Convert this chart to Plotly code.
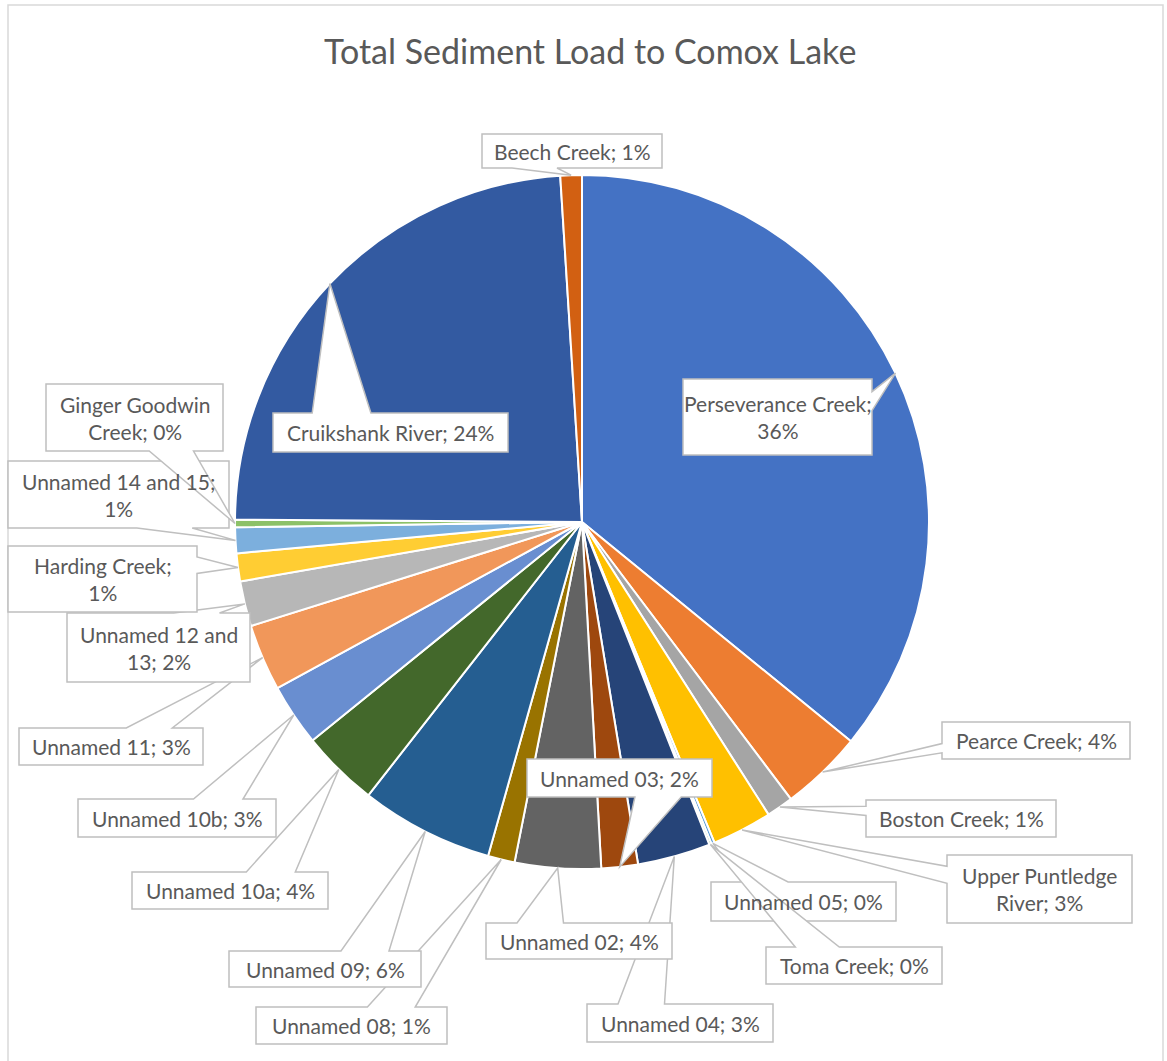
import plotly.graph_objects as go
import math

# ---- data -------------------------------------------------------------
sources = [
    "Perseverance Creek", "Pearce Creek", "Boston Creek", "Upper Puntledge River",
    "Unnamed 05", "Toma Creek", "Unnamed 04", "Unnamed 03", "Unnamed 02",
    "Unnamed 08", "Unnamed 09", "Unnamed 10a", "Unnamed 10b", "Unnamed 11",
    "Unnamed 12 and 13", "Harding Creek", "Unnamed 14 and 15",
    "Ginger Goodwin Creek", "Cruikshank River", "Beech Creek",
]
# share of total sediment load (%)
load_share = [
    35.9, 3.83, 1.25, 2.8,
    0.15, 0.1, 3.4, 1.7, 4.0,
    1.25, 6.2, 3.6, 2.9, 3.1,
    2.1, 1.3, 1.2,
    0.35, 23.9, 1.0,
]
slice_colors = [
    "#4472C4", "#ED7D31", "#A5A5A5", "#FFC000",
    "#5B9BD5", "#70AD47", "#264478", "#9E480E", "#636363",
    "#997300", "#255E91", "#43682B", "#698ED0", "#F1975A",
    "#B7B7B7", "#FFCD33", "#7CAFDD",
    "#8CC168", "#335AA1", "#D26012",
]

# ---- page geometry (pixels) -------------------------------------------
W, H = 1167, 1061
CX, CY, R = 582, 522, 347

# callout boxes: left, top, right, bottom, words on first line (None = one line)
callout_boxes = {
    "Perseverance Creek": (683, 379, 872, 455, 2),
    "Pearce Creek": (942, 722, 1130, 759, None),
    "Boston Creek": (866, 800, 1056, 837, None),
    "Upper Puntledge River": (947, 855, 1132, 923, 2),
    "Unnamed 05": (711, 882, 896, 921, None),
    "Toma Creek": (766, 947, 942, 984, None),
    "Unnamed 04": (587, 1004, 773, 1042, None),
    "Unnamed 03": (527, 759, 712, 797, None),
    "Unnamed 02": (486, 923, 672, 959, None),
    "Unnamed 08": (256, 1007, 447, 1044, None),
    "Unnamed 09": (229, 951, 421, 987, None),
    "Unnamed 10a": (132, 872, 328, 909, None),
    "Unnamed 10b": (78, 799, 276, 837, None),
    "Unnamed 11": (19, 728, 203, 765, None),
    "Unnamed 12 and 13": (67, 613, 250, 682, 3),
    "Harding Creek": (8, 546, 197, 612, 2),
    "Unnamed 14 and 15": (8, 461, 229, 528, 4),
    "Ginger Goodwin Creek": (46, 384, 223, 451, 2),
    "Cruikshank River": (273, 413, 508, 452, None),
    "Beech Creek": (482, 134, 662, 168, None),
}

TEXT_COLOR = "#595959"
FONT = "Lato"


def callout_path(l, t, r, b, tx, ty):
    """Rectangle with a wedge pointing at (tx, ty), like a rectangular callout."""
    w, h = r - l, b - t
    hc, vc = (l + r) / 2, (t + b) / 2
    dx, dy = tx - hc, ty - vc
    dz = abs(dy) - abs(dx * h / w)
    x1 = l + w * (7 if dx > 0 else 2) / 12
    x2 = l + w * (10 if dx > 0 else 5) / 12
    y1 = t + h * (7 if dy > 0 else 2) / 12
    y2 = t + h * (10 if dy > 0 else 5) / 12
    pts = [(l, t)]
    if dz > 0 and dy < 0:
        pts += [(x1, t), (tx, ty), (x2, t)]
    pts.append((r, t))
    if dz <= 0 and dx > 0:
        pts += [(r, y1), (tx, ty), (r, y2)]
    pts.append((r, b))
    if dz > 0 and dy >= 0:
        pts += [(x2, b), (tx, ty), (x1, b)]
    pts.append((l, b))
    if dz <= 0 and dx <= 0:
        pts += [(l, y2), (tx, ty), (l, y1)]
    return "M " + " L ".join(f"{x:.1f},{y:.1f}" for x, y in pts) + " Z"


fig = go.Figure()

fig.add_trace(go.Pie(
    labels=sources,
    values=load_share,
    sort=False,
    direction="clockwise",
    rotation=0,
    textinfo="none",
    hoverinfo="label+percent",
    marker=dict(colors=slice_colors, line=dict(color="white", width=2)),
    domain=dict(x=[(CX - R) / W, (CX + R) / W],
                y=[1 - (CY + R) / H, 1 - (CY - R) / H]),
    showlegend=False,
))

# invisible pixel-space axes for the callouts
fig.add_trace(go.Scatter(x=[0, W], y=[0, H], mode="markers",
                         marker=dict(opacity=0), hoverinfo="skip", showlegend=False))

total = sum(load_share)
shapes = []
annotations = []

# chart-area border
shapes.append(dict(type="rect", xref="x", yref="y", x0=8, y0=5, x1=1163, y1=1075,
                   line=dict(color="#D9D9D9", width=1.5), fillcolor="rgba(0,0,0,0)",
                   layer="below"))

cum = 0.0
for name, val in zip(sources, load_share):
    mid = (cum + val / 2) / total * 2 * math.pi
    cum += val
    tx = CX + R * math.sin(mid)
    ty = CY - R * math.cos(mid)
    l, t, r, b, brk = callout_boxes[name]
    shapes.append(dict(type="path", xref="x", yref="y",
                       path=callout_path(l, t, r, b, tx, ty),
                       fillcolor="white", line=dict(color="#BFBFBF", width=1.5),
                       layer="above"))
    pct = round(val / total * 100)
    words = f"{name}; {pct}%".split(" ")
    if brk:
        text = " ".join(words[:brk]) + "<br>" + " ".join(words[brk:])
    else:
        text = " ".join(words)
    annotations.append(dict(x=(l + r) / 2, y=(t + b) / 2, xref="x", yref="y",
                            text=text, showarrow=False, xanchor="center",
                            yanchor="middle", align="center",
                            font=dict(family=FONT, size=21, color=TEXT_COLOR)))

annotations.append(dict(x=590, y=50, xref="x", yref="y",
                        text="Total Sediment Load to Comox Lake", showarrow=False,
                        xanchor="center", yanchor="middle",
                        font=dict(family=FONT, size=34, color=TEXT_COLOR)))

fig.update_layout(
    width=W, height=H,
    margin=dict(l=0, r=0, t=0, b=0),
    paper_bgcolor="white", plot_bgcolor="rgba(0,0,0,0)",
    xaxis=dict(range=[0, W], visible=False, fixedrange=True),
    yaxis=dict(range=[H, 0], visible=False, fixedrange=True),
    shapes=shapes,
    annotations=annotations,
    font=dict(family=FONT, color=TEXT_COLOR),
)

fig.write_html("out.html")
